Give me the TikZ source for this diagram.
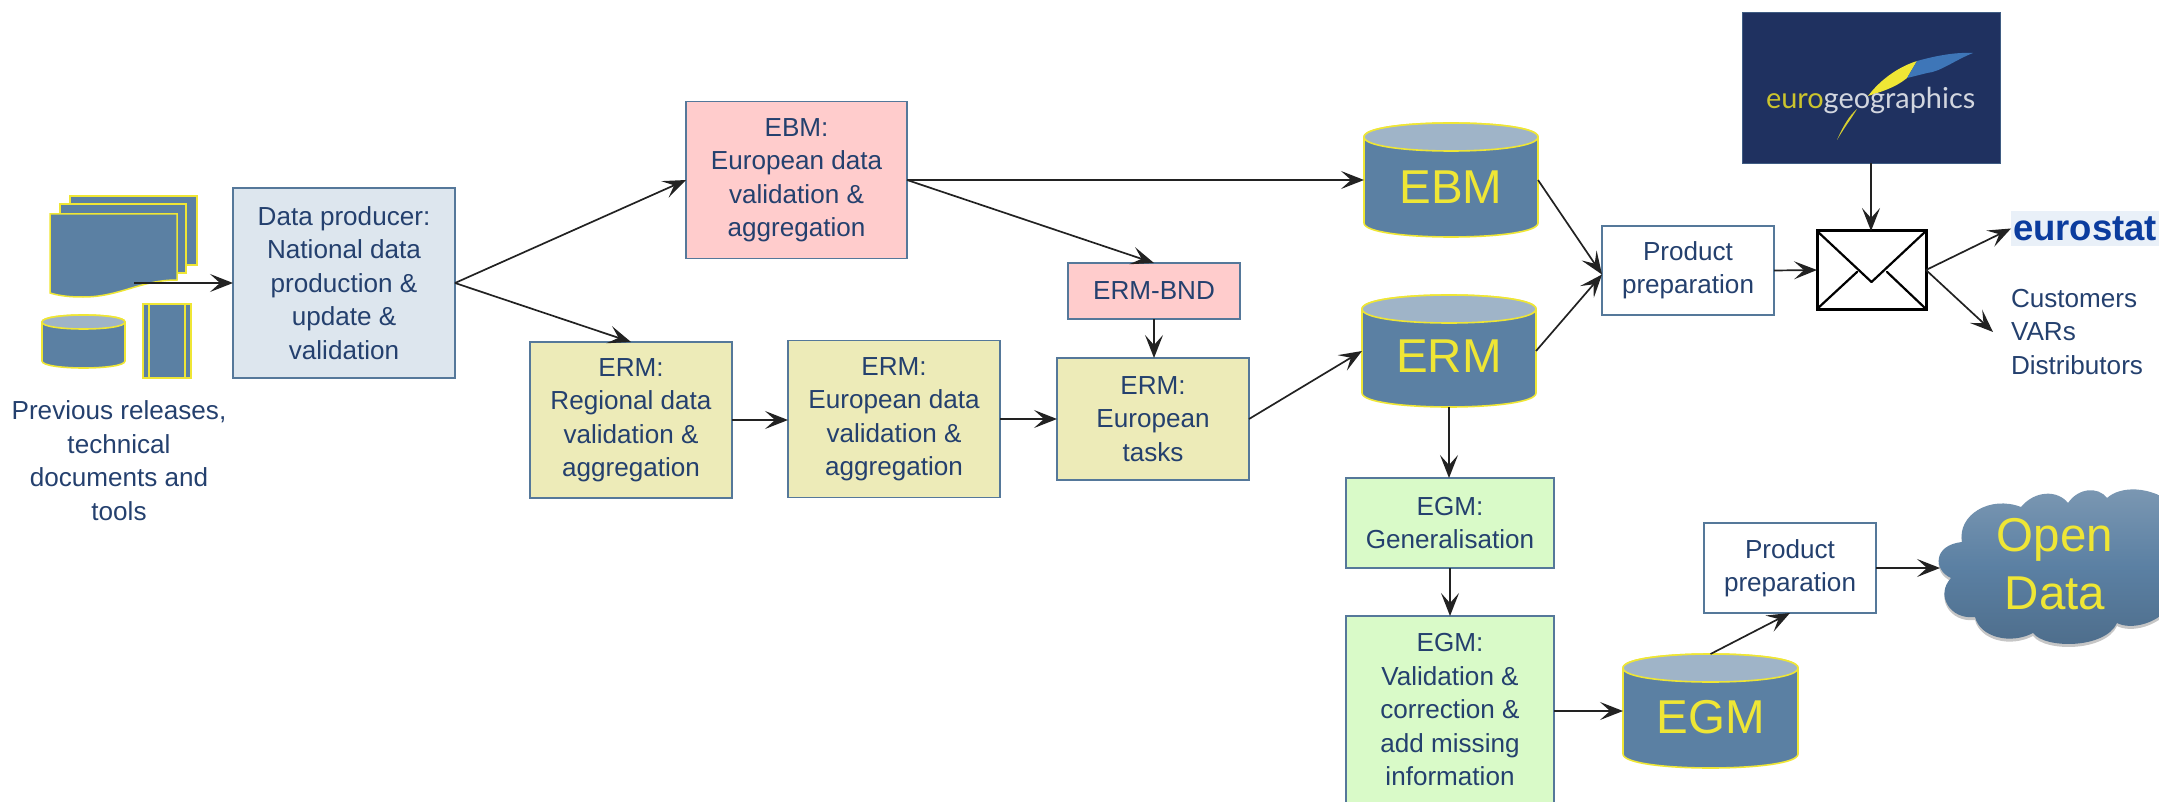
\documentclass[tikz,border=0pt]{standalone}
\usepackage{fontspec}
\setmainfont{Liberation Sans}
\newfontfamily\logofont{Lato}
\usetikzlibrary{arrows.meta,calc,shadows,fadings}
\definecolor{inkblue}{HTML}{24406E}
\definecolor{edgeblue}{HTML}{55789A}
\definecolor{drumblue}{HTML}{5B80A3}
\definecolor{drumlid}{HTML}{9FB4C8}
\definecolor{drumedge}{HTML}{EFE635}
\definecolor{linkdark}{HTML}{222222}
\definecolor{fillslate}{HTML}{DDE6EE}
\definecolor{fillpink}{HTML}{FFCCCC}
\definecolor{fillolive}{HTML}{EDEBB8}
\definecolor{fillgreen}{HTML}{D9FAC8}
\definecolor{navylogo}{HTML}{1F3160}
\definecolor{logoblue}{HTML}{3E76B8}
\definecolor{eurostatblue}{HTML}{0B3C9E}
\definecolor{eurostatbg}{HTML}{E9F0F8}
\tikzset{
  stepbox/.style={rectangle,draw=edgeblue,line width=1.6pt,align=center,inner sep=0pt,outer sep=0pt,
    text=inkblue,font=\fontsize{26.1}{33.5}\selectfont},
  plaintext/.style={align=center,inner sep=0pt,outer sep=0pt,text=inkblue,font=\fontsize{26.1}{33.5}\selectfont},
  link/.style={draw=linkdark,line width=1.7pt,-{Stealth[length=23pt,width=18pt,inset=10pt]}},
  drumbody/.style={fill=drumblue,draw=drumedge,line width=1.6pt},
  drumlidstyle/.style={fill=drumlid,draw=drumedge,line width=1.6pt},
  drumbox/.style={rectangle,inner sep=0pt,outer sep=0pt},
  drumtext/.style={inner sep=0pt,outer sep=0pt,text=drumedge,font=\fontsize{47.5}{58}\selectfont,align=center},
  sheet/.style={fill=drumblue,draw=drumedge,line width=1.5pt},
  envline/.style={draw=black,line width=2.2pt,line cap=round,line join=round},
}
\newcommand\drum[6]{% name, left, right, top, bottom, radius
  \pgfmathsetmacro\dL{#2}\pgfmathsetmacro\dR{#3}\pgfmathsetmacro\dT{#4}\pgfmathsetmacro\dB{#5}\pgfmathsetmacro\dr{#6}
  \pgfmathsetmacro\dTc{\dT+\dr}\pgfmathsetmacro\dBc{\dB-\dr}
  \pgfmathsetmacro\dTu{\dTc-4/3*\dr}\pgfmathsetmacro\dTd{\dTc+4/3*\dr}\pgfmathsetmacro\dBd{\dBc+4/3*\dr}
  \pgfmathsetmacro\dW{\dR-\dL}\pgfmathsetmacro\dH{\dB-\dT}
  \pgfmathsetmacro\dCx{(\dL+\dR)/2}\pgfmathsetmacro\dCy{(\dT+\dB)/2}
  \path[drumbody] (\dL,\dTc) -- (\dL,\dBc) .. controls (\dL,\dBd) and (\dR,\dBd) .. (\dR,\dBc) -- (\dR,\dTc)
     .. controls (\dR,\dTu) and (\dL,\dTu) .. (\dL,\dTc) -- cycle;
  \path[drumlidstyle] (\dL,\dTc) .. controls (\dL,\dTu) and (\dR,\dTu) .. (\dR,\dTc)
     .. controls (\dR,\dTd) and (\dL,\dTd) .. (\dL,\dTc) -- cycle;
  \node[drumbox,minimum width=\dW pt,minimum height=\dH pt] (#1) at (\dCx,\dCy) {};
}
\begin{document}
\begin{tikzpicture}[x=1pt,y=-1pt]
\useasboundingbox (0,0) rectangle (2159,802);

% source icons
\path[sheet] (70,196) rectangle (197,265);
\path[sheet] (60,204) rectangle (186,273);
\path[sheet] (50,214) -- (177,214) -- (177,280)
  .. controls (140,280) and (120,297) .. (83,297)
  .. controls (70,297) and (60,296) .. (50,293) -- cycle;
\drum{srcdrum}{42}{125}{315}{368}{7}
\path[sheet] (143,304) rectangle (191,378);
\draw[draw=drumedge,line width=1.5pt] (149,304) -- (149,378) (185,304) -- (185,378);
\coordinate (srcout) at (134,283);
\node[plaintext] (prev) at (119,460.5) {Previous releases,\\technical\\documents and\\tools};

% process boxes
\node[stepbox,fill=fillslate,minimum width=222pt,minimum height=190pt] (dp) at (344,283) {Data producer:\\National data\\production \&\\update \&\\validation};
\node[stepbox,fill=fillpink,minimum width=221pt,minimum height=157pt] (ebmbox) at (796.5,180) {EBM:\\European data\\validation \&\\aggregation};
\node[stepbox,fill=fillolive,minimum width=202pt,minimum height=156pt] (reg) at (631,420) {ERM:\\Regional data\\validation \&\\aggregation};
\node[stepbox,fill=fillolive,minimum width=212pt,minimum height=157pt] (eur) at (894,419) {ERM:\\European data\\validation \&\\aggregation};
\node[stepbox,fill=fillpink,minimum width=172pt,minimum height=56pt] (bnd) at (1154,291) {ERM-BND};
\node[stepbox,fill=fillolive,minimum width=192pt,minimum height=122pt] (tasks) at (1153,419) {ERM:\\European\\tasks};
\node[stepbox,fill=white,minimum width=172pt,minimum height=89pt] (prod) at (1688,270.5) {Product\\preparation};
\node[stepbox,fill=fillgreen,minimum width=208pt,minimum height=90pt] (gen) at (1450,523) {EGM:\\Generalisation};
\node[stepbox,fill=fillgreen,minimum width=208pt,minimum height=188pt] (val) at (1450,710) {EGM:\\Validation \&\\correction \&\\add missing\\information};
\node[stepbox,fill=white,minimum width=172pt,minimum height=90pt] (prep) at (1790,568) {Product\\preparation};

% databases
\drum{ebmdb}{1364}{1538}{123}{237}{14}
\node[drumtext] (ebmdbtext) at (1451,187) {EBM};
\drum{ermdb}{1362}{1536}{295}{407}{14}
\node[drumtext] (ermdbtext) at (1449,356) {ERM};
\drum{egmdb}{1623}{1798}{654}{768}{14}
\node[drumtext] (egmdbtext) at (1711,717) {EGM};

% logo
\node[rectangle,fill=navylogo,draw=edgeblue!60!navylogo,line width=0.8pt,minimum width=258pt,minimum height=151pt,inner sep=0pt,outer sep=0pt] (logo) at (1871,87.5) {};
\fill[drumedge!90!black] (1837,140) .. controls (1843,126) and (1849,116) .. (1857,109) .. controls (1851,119) and (1844,128) .. (1837,140) -- cycle;
\fill[drumedge] (1868,96) .. controls (1880,80) and (1898,67) .. (1917,61) -- (1907,78) .. controls (1895,88) and (1880,92) .. (1868,96) -- cycle;
\fill[logoblue] (1917,61) .. controls (1935,56) and (1955,52) .. (1973,53) .. controls (1955,60) and (1940,72) .. (1927,73) -- (1907,78) -- cycle;
\node[anchor=base west,inner sep=0pt,outer sep=0pt,font=\logofont\fontsize{28.9}{32}\selectfont] (logotext) at (1766,109) {\textcolor{drumedge!85!black}{euro}\textcolor{white!80!navylogo}{geographics}};

% envelope
\node[rectangle,draw=black,fill=white,line width=3pt,minimum width=109pt,minimum height=78pt,inner sep=0pt,outer sep=0pt] (env) at (1871.5,270) {};
\draw[envline] (env.north west) -- (1871.5,282) -- (env.north east);
\draw[envline] (env.south west) -- (1857,272);
\draw[envline] (env.south east) -- (1887,272);

% outcomes
\node[rectangle,fill=eurostatbg,minimum width=148pt,minimum height=35pt,inner sep=0pt,outer sep=0pt,text=eurostatblue,font=\bfseries\fontsize{36.5}{40}\selectfont] (eurostat) at (2085,228.5) {eurostat};
\node[plaintext,anchor=west,align=left] (customers) at (2011,332) {Customers\\VARs\\Distributors};
\coordinate (custin) at (1993,332);

% cloud
\path[top color=drumblue!80!white!95!gray,bottom color=drumblue!85!black,middle color=drumblue,
      drop shadow={opacity=0.45,shadow xshift=0pt,shadow yshift=-3pt}]
  (1962,542) .. controls (1957,515) and (1990,495) .. (2021,507)
  .. controls (2035,490) and (2058,490) .. (2068,503)
  .. controls (2078,488) and (2098,486) .. (2107,498)
  .. controls (2120,486) and (2150,485) .. (2175,505)
  -- (2175,600)
  .. controls (2160,625) and (2130,630) .. (2117,623)
  .. controls (2105,649) and (2045,649) .. (2033,633)
  .. controls (2010,645) and (1980,637) .. (1975,617)
  .. controls (1950,620) and (1935,595) .. (1951,578)
  .. controls (1933,570) and (1933,545) .. (1962,542) -- cycle;
\coordinate (cloudin) at (1940,567);
\node[drumtext] (cloudtext) at (2055,564) {Open\\Data};

% connectors
\draw[link] (srcout) -- (srcout -| dp.west);
\draw[link] (dp.east) -- (ebmbox.west);
\draw[link] (dp.east) -- (reg.north);
\draw[link] (reg.east) -- (reg.east -| eur.west);
\draw[link] (eur.east) -- (eur.east -| tasks.west);
\draw[link] (ebmbox.east) -- (ebmbox.east -| ebmdb.west);
\draw[link] (ebmbox.east) -- (bnd.north);
\draw[link] (bnd.south) -- (bnd.south |- tasks.north);
\draw[link] (tasks.east) -- (ermdb.west);
\draw[link] (ebmdb.east) -- ([yshift=-4pt]prod.west);
\draw[link] (ermdb.east) -- ([yshift=-4pt]prod.west);
\draw[link] (prod.east) -- (env.west);
\draw[link] (logo.south) -- (logo.south |- env.north);
\draw[link] (env.east) -- (eurostat.west);
\draw[link] (env.east) -- (custin);
\draw[link] (ermdb.south) -- (ermdb.south |- gen.north);
\draw[link] (gen.south) -- (val.north);
\draw[link] (egmdb.west -| val.east) -- (egmdb.west);
\draw[link] (egmdb.north) -- (prep.south);
\draw[link] (prep.east) -- (prep.east -| cloudin);
\end{tikzpicture}
\end{document}
